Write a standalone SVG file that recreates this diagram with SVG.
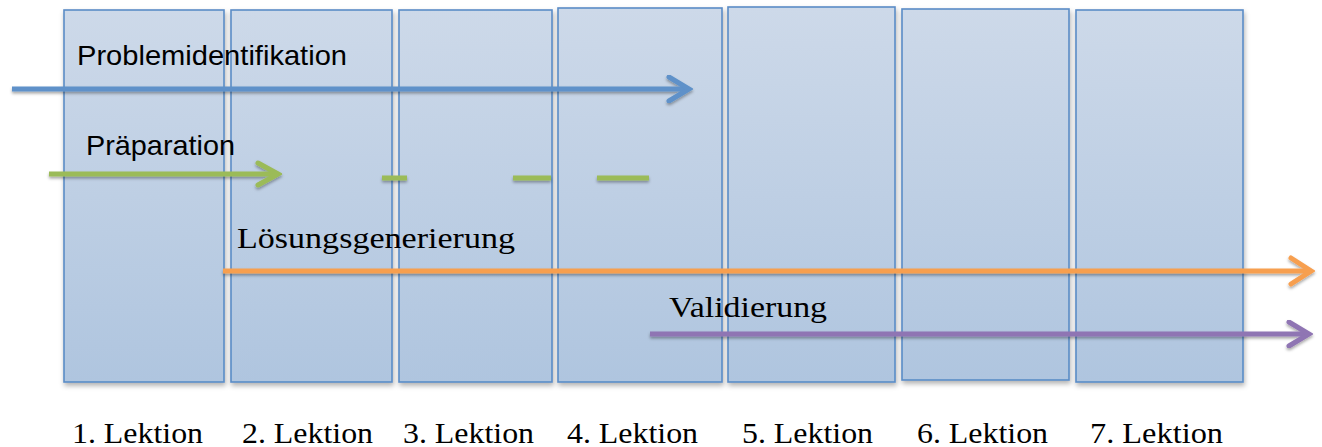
<svg xmlns="http://www.w3.org/2000/svg" width="1322" height="447" viewBox="0 0 1322 447">
<style>
.col{fill:url(#colGrad);stroke:#5a8cc6;stroke-width:1.6;filter:url(#boxShadow)}
.lek{font-family:"Liberation Serif","DejaVu Serif",serif;font-size:30px;fill:#000}
.phs{font-family:"Liberation Sans",Arial,sans-serif;font-size:28px;fill:#000}
.phr{font-family:"Liberation Serif","DejaVu Serif",serif;font-size:30px;fill:#000}
.arr{fill:none;stroke-width:5;filter:url(#lineShadow)}
.head{fill:none;stroke-width:5;stroke-linecap:round;stroke-linejoin:miter}
</style>
<defs>
<linearGradient id="colGrad" x1="0" y1="0" x2="0" y2="1">
<stop offset="0" stop-color="#cdd9e9"/>
<stop offset="1" stop-color="#afc5df"/>
</linearGradient>
<filter id="boxShadow" x="-10%" y="-5%" width="125%" height="115%">
<feDropShadow dx="1" dy="3" stdDeviation="2.5" flood-color="#000" flood-opacity="0.3"/>
</filter>
<filter id="lineShadow" filterUnits="userSpaceOnUse" x="0" y="0" width="1322" height="447">
<feDropShadow dx="0" dy="2" stdDeviation="1.5" flood-color="#000" flood-opacity="0.35"/>
</filter>
<marker id="mBlue" markerUnits="userSpaceOnUse" viewBox="-24 -14 28 28" refX="0" refY="0" markerWidth="28" markerHeight="28" orient="auto">
<path class="head" d="M-20,-12 L0,0 L-20,12" stroke="#5e91c9"/>
</marker>
<marker id="mGreen" markerUnits="userSpaceOnUse" viewBox="-24 -14 28 28" refX="0" refY="0" markerWidth="28" markerHeight="28" orient="auto">
<path class="head" d="M-20,-11 L0,0 L-20,11" stroke="#9bbb59"/>
</marker>
<marker id="mOrange" markerUnits="userSpaceOnUse" viewBox="-24 -16 28 32" refX="0" refY="0" markerWidth="28" markerHeight="32" orient="auto">
<path class="head" d="M-20,-13 L0,0 L-20,13" stroke="#f79f50"/>
</marker>
<marker id="mPurple" markerUnits="userSpaceOnUse" viewBox="-24 -14 28 28" refX="0" refY="0" markerWidth="28" markerHeight="28" orient="auto">
<path class="head" d="M-20,-12 L0,0 L-20,12" stroke="#8f74b3"/>
</marker>
</defs>

<g id="lektion1"><rect class="col" x="64" y="10" width="160" height="372"/><text class="lek" x="72" y="443" textLength="131" lengthAdjust="spacingAndGlyphs">1. Lektion</text></g>
<g id="lektion2"><rect class="col" x="231" y="10" width="161" height="372"/><text class="lek" x="242" y="443" textLength="131" lengthAdjust="spacingAndGlyphs">2. Lektion</text></g>
<g id="lektion3"><rect class="col" x="399" y="10" width="153" height="372"/><text class="lek" x="403" y="443" textLength="131" lengthAdjust="spacingAndGlyphs">3. Lektion</text></g>
<g id="lektion4"><rect class="col" x="558" y="8" width="164" height="374"/><text class="lek" x="567" y="443" textLength="131" lengthAdjust="spacingAndGlyphs">4. Lektion</text></g>
<g id="lektion5"><rect class="col" x="728" y="7" width="167" height="375"/><text class="lek" x="742" y="443" textLength="131" lengthAdjust="spacingAndGlyphs">5. Lektion</text></g>
<g id="lektion6"><rect class="col" x="902" y="9" width="167" height="371"/><text class="lek" x="917" y="443" textLength="131" lengthAdjust="spacingAndGlyphs">6. Lektion</text></g>
<g id="lektion7"><rect class="col" x="1076" y="10" width="167" height="372"/><text class="lek" x="1090" y="443" textLength="133" lengthAdjust="spacingAndGlyphs">7. Lektion</text></g>

<g id="connectors">
<g id="problemidentifikation">
<line class="arr" x1="12" y1="89" x2="689" y2="89" stroke="#5e91c9" marker-end="url(#mBlue)"/>
<text class="phs" x="77" y="65" textLength="270" lengthAdjust="spacingAndGlyphs">Problemidentifikation</text>
</g>
<g id="praeparation">
<line class="arr" x1="49" y1="174" x2="278" y2="174" stroke="#9bbb59" marker-end="url(#mGreen)"/>
<line class="arr" x1="382" y1="178" x2="407" y2="178" stroke="#9bbb59"/>
<line class="arr" x1="513" y1="178" x2="551" y2="178" stroke="#9bbb59"/>
<line class="arr" x1="597" y1="178" x2="649" y2="178" stroke="#9bbb59"/>
<text class="phs" x="86" y="155" textLength="149" lengthAdjust="spacingAndGlyphs">Präparation</text>
</g>
<g id="loesungsgenerierung">
<line class="arr" x1="223" y1="271" x2="1311" y2="271" stroke="#f79f50" marker-end="url(#mOrange)"/>
<text class="phr" x="237" y="248" textLength="278" lengthAdjust="spacingAndGlyphs">Lösungsgenerierung</text>
</g>
<g id="validierung">
<line class="arr" x1="650" y1="334" x2="1309" y2="334" stroke="#8f74b3" marker-end="url(#mPurple)"/>
<text class="phr" x="669" y="317" textLength="158" lengthAdjust="spacingAndGlyphs">Validierung</text>
</g>
</g>
</svg>
